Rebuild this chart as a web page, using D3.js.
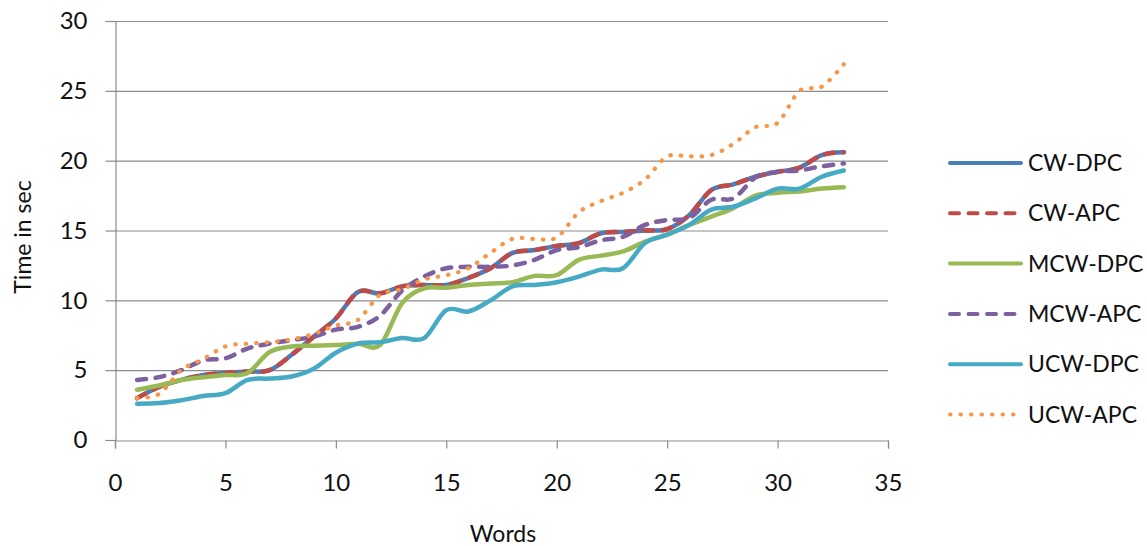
<!DOCTYPE html>
<html>
<head>
<meta charset="utf-8">
<script src="https://cdn.jsdelivr.net/npm/d3@7"></script>
<style>
  body { margin: 0; background: #fff; }
  svg text { font-family: Lato, "Open Sans", sans-serif; fill: #111; }
</style>
</head>
<body>
<svg id="chart" width="1147" height="546"></svg>
<script>
const words = d3.range(1, 34)

const cwDpc = [3.0, 3.8, 4.3, 4.65, 4.8, 4.9, 5.0, 6.1, 7.4, 8.7, 10.6, 10.5, 11.0, 11.1, 11.1, 11.6, 12.3, 13.4, 13.6, 13.9, 14.1, 14.8, 14.9, 15.0, 15.1, 16.1, 17.9, 18.3, 18.85, 19.2, 19.5, 20.4, 20.6]
const cwApc = [3.0, 3.8, 4.3, 4.65, 4.8, 4.9, 5.0, 6.1, 7.4, 8.7, 10.6, 10.5, 11.0, 11.1, 11.1, 11.6, 12.3, 13.4, 13.6, 13.9, 14.1, 14.8, 14.9, 15.0, 15.1, 16.1, 17.9, 18.3, 18.85, 19.2, 19.5, 20.4, 20.6]
const mcwDpc = [3.6, 3.9, 4.3, 4.5, 4.65, 4.8, 6.3, 6.7, 6.75, 6.8, 6.9, 6.8, 9.8, 10.85, 10.9, 11.1, 11.2, 11.3, 11.75, 11.8, 12.9, 13.2, 13.5, 14.2, 14.7, 15.4, 16.0, 16.6, 17.5, 17.7, 17.8, 18.0, 18.1]
const mcwApc = [4.3, 4.5, 5.0, 5.7, 5.85, 6.55, 6.9, 7.15, 7.4, 7.9, 8.1, 8.9, 10.7, 11.7, 12.3, 12.4, 12.4, 12.5, 12.9, 13.6, 13.8, 14.3, 14.55, 15.4, 15.75, 15.9, 17.2, 17.3, 18.8, 19.2, 19.3, 19.6, 19.8]
const ucwDpc = [2.6, 2.65, 2.85, 3.15, 3.35, 4.3, 4.4, 4.55, 5.1, 6.25, 6.9, 7.0, 7.3, 7.3, 9.3, 9.2, 10.0, 11.0, 11.1, 11.3, 11.7, 12.2, 12.3, 14.1, 14.7, 15.4, 16.5, 16.7, 17.3, 18.0, 18.0, 18.85, 19.3]
const ucwApc = [3.0, 3.3, 5.0, 5.8, 6.7, 6.9, 7.0, 7.2, 7.6, 8.2, 8.6, 10.4, 10.8, 11.5, 11.8, 12.3, 13.4, 14.4, 14.4, 14.5, 16.3, 17.1, 17.7, 18.65, 20.3, 20.3, 20.4, 21.2, 22.4, 22.7, 25.0, 25.3, 26.9]

const seriesNames = ['CW-DPC', 'CW-APC', 'MCW-DPC', 'MCW-APC', 'UCW-DPC', 'UCW-APC']
const seriesValues = [cwDpc, cwApc, mcwDpc, mcwApc, ucwDpc, ucwApc]
const seriesColors = ['#4a7ebb', '#be4b48', '#98b954', '#7d60a0', '#46aac5', '#f79646']
const seriesDash = [null, '9,9.5', null, '9,9.5', null, '0.5,10']

const xTicks = [0, 5, 10, 15, 20, 25, 30, 35]
const yTicks = [0, 5, 10, 15, 20, 25, 30]

const svg = d3.select('#chart')
const plotLeft = 115
const plotRight = 888
const plotTop = 21
const plotBottom = 440

const x = d3.scaleLinear().domain([0, 35]).range([plotLeft, plotRight])
const y = d3.scaleLinear().domain([0, 30]).range([plotBottom, plotTop])

// horizontal gridlines
svg.append('g')
  .selectAll('line')
  .data(yTicks.filter(d => d > 0))
  .enter()
  .append('line')
  .attr('x1', plotLeft)
  .attr('x2', plotRight)
  .attr('y1', d => y(d) + 0.5)
  .attr('y2', d => y(d) + 0.5)
  .attr('stroke', '#8c8c8c')
  .attr('stroke-width', 1.2)

// axes
const yAxis = svg.append('g')
  .attr('transform', `translate(${plotLeft + 0.5},0)`)
  .call(d3.axisLeft(y).tickValues(yTicks).tickSize(10).tickPadding(18))
const xAxis = svg.append('g')
  .attr('transform', `translate(0,${plotBottom + 0.5})`)
  .call(d3.axisBottom(x).tickValues(xTicks).tickSize(8).tickPadding(25))

;[yAxis, xAxis].forEach(a => {
  a.select('.domain').attr('stroke', '#8c8c8c').attr('stroke-width', 1.2)
  a.selectAll('.tick line').attr('stroke', '#8c8c8c').attr('stroke-width', 1.2)
  a.selectAll('.tick text')
    .style('font-family', 'Lato, sans-serif')
    .style('font-size', '24px')
    .attr('fill', '#111')
})

// lines
const line = d3.line()
  .curve(d3.curveCatmullRom.alpha(0))
  .x((d, i) => x(words[i]))
  .y(d => y(d))

const order = [0, 1, 2, 3, 4, 5]
svg.append('g')
  .selectAll('path')
  .data(order)
  .enter()
  .append('path')
  .attr('d', i => line(seriesValues[i]))
  .attr('fill', 'none')
  .attr('stroke', i => seriesColors[i])
  .attr('stroke-width', i => i === 5 ? 4.2 : 4.5)
  .attr('stroke-linecap', 'round')
  .attr('stroke-linejoin', 'round')
  .attr('stroke-dasharray', i => seriesDash[i])

// axis titles
svg.append('text')
  .attr('x', 503)
  .attr('y', 542)
  .attr('text-anchor', 'middle')
  .style('font-size', '23px')
  .text('Words')

svg.append('text')
  .attr('transform', 'translate(31,237) rotate(-90)')
  .attr('text-anchor', 'middle')
  .style('font-size', '23px')
  .text('Time in sec')

// legend
const legend = svg.append('g')
  .selectAll('g')
  .data(seriesNames)
  .enter()
  .append('g')
  .attr('transform', (d, i) => `translate(0,${163 + i * 50.3})`)

legend.append('line')
  .attr('x1', 950)
  .attr('x2', 1021)
  .attr('stroke', (d, i) => seriesColors[i])
  .attr('stroke-width', 4)
  .attr('stroke-linecap', 'round')
  .attr('stroke-dasharray', (d, i) => seriesDash[i])

legend.append('text')
  .attr('x', 1028)
  .attr('y', 8)
  .style('font-size', '23px')
  .text(d => d)
</script>
</body>
</html>
